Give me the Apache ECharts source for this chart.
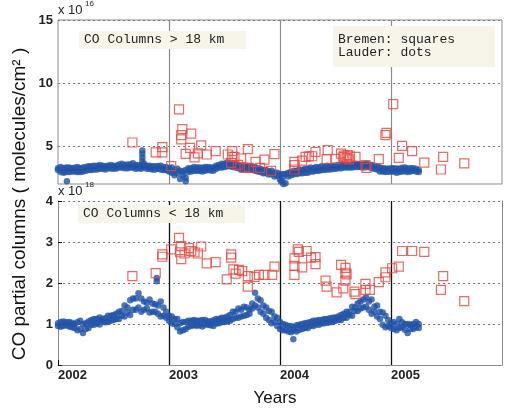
<!DOCTYPE html>
<html>
<head>
<meta charset="utf-8">
<script src="https://cdn.jsdelivr.net/npm/echarts@6.0.0/dist/echarts.min.js"></script>
<style>
  html, body { margin: 0; padding: 0; background: #fff; }
  #chart { width: 506px; height: 411px; }
</style>
</head>
<body>
<div id="chart"></div>
<script>
// tick values
const upperTicks = [5, 10, 15];          // x 1e16
const lowerTicks = [0, 1, 2, 3, 4];      // x 1e18

// Lauder (dots): decimal year, two readings per date, above 18 km (x1e16) and below 18 km (x1e18)
const lauderYears = [
  2002.000, 2002.025, 2002.050, 2002.075, 2002.100, 2002.125, 2002.150, 2002.175, 2002.200, 2002.225,
  2002.250, 2002.275, 2002.300, 2002.325, 2002.350, 2002.375, 2002.400, 2002.425, 2002.450, 2002.475,
  2002.500, 2002.525, 2002.550, 2002.575, 2002.600, 2002.625, 2002.650, 2002.675, 2002.700, 2002.725,
  2002.750, 2002.775, 2002.800, 2002.825, 2002.850, 2002.875, 2002.900, 2002.925, 2002.950, 2002.975,
  2003.000, 2003.025, 2003.050, 2003.075, 2003.100, 2003.125, 2003.150, 2003.175, 2003.200, 2003.225,
  2003.250, 2003.275, 2003.300, 2003.325, 2003.350, 2003.375, 2003.400, 2003.425, 2003.450, 2003.475,
  2003.500, 2003.525, 2003.550, 2003.575, 2003.600, 2003.625, 2003.650, 2003.675, 2003.700, 2003.725,
  2003.750, 2003.775, 2003.800, 2003.825, 2003.850, 2003.875, 2003.900, 2003.925, 2003.950, 2003.975,
  2004.000, 2004.025, 2004.050, 2004.075, 2004.100, 2004.125, 2004.150, 2004.175, 2004.200, 2004.225,
  2004.250, 2004.275, 2004.300, 2004.325, 2004.350, 2004.375, 2004.400, 2004.425, 2004.450, 2004.475,
  2004.500, 2004.525, 2004.550, 2004.575, 2004.600, 2004.625, 2004.650, 2004.675, 2004.700, 2004.725,
  2004.750, 2004.775, 2004.800, 2004.825, 2004.850, 2004.875, 2004.900, 2004.925, 2004.950, 2004.975,
  2005.000, 2005.025, 2005.050, 2005.075, 2005.100, 2005.125, 2005.150, 2005.175, 2005.200, 2005.225,
  2005.250
];
const lauderAbove = [
  3.10, 3.35, 2.90, 3.30, 2.95, 3.25, 3.00, 3.35, 2.95, 3.30,
  3.05, 3.40, 3.10, 3.45, 3.15, 3.50, 3.20, 3.40, 3.25, 3.50,
  3.20, 3.45, 3.30, 3.60, 3.25, 3.55, 3.30, 3.65, 3.20, 3.50,
  3.40, 3.60, 3.20, 3.45, 3.15, 3.40, 3.20, 3.45, 3.10, 3.35,
  3.00, 3.30, 2.70, 3.20, 2.40, 3.00, 2.50, 3.25, 3.00, 3.35,
  3.05, 3.30, 3.00, 3.35, 3.10, 3.30, 3.05, 3.45, 3.30, 3.60,
  3.35, 3.70, 3.40, 3.65, 3.30, 3.50, 3.15, 3.45, 3.20, 3.40,
  3.10, 3.35, 3.00, 3.20, 2.85, 3.10, 2.75, 3.05, 2.60, 2.90,
  2.35, 2.80, 2.05, 2.90, 2.70, 3.05, 2.80, 3.15, 2.85, 3.20,
  2.90, 3.30, 3.00, 3.35, 3.05, 3.40, 3.10, 3.45, 3.15, 3.45,
  3.20, 3.50, 3.25, 3.55, 3.30, 3.55, 3.30, 3.60, 3.35, 3.55,
  3.30, 3.60, 3.35, 3.50, 3.20, 3.40, 3.00, 3.25, 2.95, 3.20,
  3.00, 3.25, 2.90, 3.20, 3.00, 3.30, 2.95, 3.25, 3.05, 3.20,
  3.10
];
const lauderAboveB = [
  3.25, 2.95, 3.25, 2.95, 3.30, 3.00, 3.28, 2.95, 3.25, 3.00,
  3.35, 3.10, 3.40, 3.15, 3.42, 3.20, 3.45, 3.15, 3.45, 3.22,
  3.45, 3.22, 3.55, 3.30, 3.50, 3.25, 3.55, 3.30, 3.48, 3.25,
  3.20, 3.35, 3.45, 3.20, 3.40, 3.15, 3.42, 3.15, 3.35, 3.10,
  3.25, 2.90, 3.10, 2.85, 3.05, 2.70, 3.10, 2.95, 3.25, 3.05,
  3.30, 3.05, 3.28, 3.05, 3.35, 3.08, 3.30, 3.20, 3.50, 3.30,
  3.60, 3.40, 3.62, 3.35, 3.55, 3.25, 3.45, 3.20, 3.42, 3.15,
  3.35, 3.05, 3.25, 2.95, 3.10, 2.85, 3.00, 2.80, 2.90, 2.65,
  2.75, 2.50, 2.80, 2.60, 2.95, 2.78, 3.05, 2.85, 3.10, 2.90,
  3.20, 3.00, 3.25, 3.05, 3.30, 3.10, 3.35, 3.15, 3.40, 3.18,
  3.45, 3.25, 3.50, 3.30, 3.52, 3.30, 3.55, 3.35, 3.58, 3.35,
  3.55, 3.35, 3.55, 3.25, 3.45, 3.15, 3.30, 3.00, 3.22, 2.98,
  3.25, 3.00, 3.22, 2.95, 3.28, 3.02, 3.22, 3.00, 3.25, 3.00,
  2.95
];
const lauderBelow = [
  1.02, 0.93, 1.06, 0.97, 1.05, 0.92, 1.00, 0.85, 1.08, 0.78,
  1.02, 0.90, 1.10, 0.98, 1.12, 0.99, 1.06, 1.14, 1.05, 1.20,
  1.10, 1.25, 1.12, 1.32, 1.18, 1.40, 1.22, 1.62, 1.35, 1.75,
  1.30, 1.55, 1.38, 1.60, 1.30, 1.48, 1.25, 1.55, 1.20, 1.30,
  1.08, 1.18, 1.00, 1.12, 0.82, 1.05, 0.88, 1.08, 0.95, 1.10,
  0.96, 1.08, 0.94, 1.10, 0.98, 1.06, 0.95, 1.12, 1.02, 1.15,
  1.05, 1.18, 1.08, 1.30, 1.15, 1.38, 1.18, 1.42, 1.22, 1.35,
  1.50, 1.76, 1.40, 1.58, 1.25, 1.40, 1.10, 1.30, 1.05, 1.15,
  0.88, 1.00, 0.85, 0.95, 0.80, 0.92, 0.82, 0.98, 0.88, 1.02,
  0.90, 1.05, 0.95, 1.08, 0.98, 1.10, 1.02, 1.12, 1.04, 1.15,
  1.08, 1.18, 1.10, 1.25, 1.15, 1.30, 1.20, 1.40, 1.32, 1.55,
  1.40, 1.65, 1.35, 1.60, 1.30, 1.45, 1.12, 1.28, 0.92, 1.10,
  0.90, 1.05, 0.85, 1.12, 0.92, 1.00, 0.78, 0.98, 0.88, 1.05,
  0.90
];
const lauderBelowB = [
  0.95, 1.05, 0.96, 1.04, 0.94, 1.03, 0.90, 1.04, 0.88, 1.00,
  0.88, 1.06, 0.98, 1.12, 1.02, 1.16, 1.12, 1.04, 1.20, 1.08,
  1.22, 1.12, 1.30, 1.20, 1.45, 1.28, 1.58, 1.35, 1.62, 1.40,
  1.62, 1.35, 1.52, 1.28, 1.50, 1.30, 1.45, 1.18, 1.40, 1.15,
  1.20, 1.02, 1.12, 0.92, 1.02, 0.85, 1.05, 0.93, 1.08, 0.97,
  1.08, 0.97, 1.10, 0.99, 1.07, 0.97, 1.09, 1.01, 1.12, 1.04,
  1.15, 1.06, 1.22, 1.12, 1.30, 1.15, 1.35, 1.20, 1.40, 1.25,
  1.38, 1.45, 1.62, 1.30, 1.45, 1.15, 1.32, 1.02, 1.18, 0.95,
  1.05, 0.85, 0.98, 0.82, 0.95, 0.84, 0.97, 0.86, 1.00, 0.90,
  1.03, 0.96, 1.08, 0.99, 1.10, 1.01, 1.12, 1.03, 1.14, 1.05,
  1.16, 1.10, 1.22, 1.15, 1.30, 1.22, 1.42, 1.32, 1.50, 1.38,
  1.60, 1.42, 1.55, 1.25, 1.42, 1.18, 1.30, 0.98, 1.20, 0.95,
  1.02, 0.88, 1.00, 0.90, 1.04, 0.86, 1.00, 0.88, 1.00, 0.92,
  1.00
];
// isolated Lauder points
const lauderAboveOddYears = [2002.08, 2002.76, 2002.76, 2002.76, 2002.76, 2003.15, 2004.03, 2004.01];
const lauderAboveOdd      = [2.22, 3.80, 4.10, 4.40, 4.65, 2.22, 2.00, 2.20];
const lauderBelowOddYears = [2002.89, 2002.89, 2004.12];
const lauderBelowOdd      = [2.12, 2.04, 0.63];

// Bremen (squares)
const bremenAboveYears = [
  2002.67, 2002.88, 2002.94, 2002.94, 2003.02, 2003.09, 2003.12, 2003.11, 2003.11, 2003.20,
  2003.15, 2003.19, 2003.23, 2003.26, 2003.29, 2003.34, 2003.42, 2003.53, 2003.57, 2003.57,
  2003.56, 2003.59, 2003.62, 2003.65, 2003.71, 2003.68, 2003.72, 2003.78, 2003.86, 2003.95,
  2003.82, 2003.92, 2004.13, 2004.13, 2004.13, 2004.20, 2004.23, 2004.26, 2004.29, 2004.32,
  2004.43, 2004.42, 2004.50, 2004.55, 2004.57, 2004.58, 2004.60, 2004.61, 2004.62, 2004.63,
  2004.68, 2004.77, 2004.78, 2004.89, 2004.95, 2004.96, 2005.02, 2005.10, 2005.07, 2005.19,
  2005.30, 2005.47, 2005.45, 2005.66
];
const bremenAbove = [
  5.29, 4.50, 4.92, 4.50, 3.41, 7.91, 6.35, 5.87, 5.53, 6.00,
  4.39, 4.87, 4.11, 4.42, 5.06, 4.34, 4.60, 4.34, 4.60, 4.15,
  3.67, 4.15, 3.52, 4.02, 4.76, 3.28, 3.28, 3.75, 3.94, 4.37,
  3.28, 3.04, 3.75, 3.49, 3.15, 3.85, 4.15, 4.20, 4.20, 4.54,
  4.68, 3.97, 3.99, 4.40, 4.15, 4.25, 4.05, 4.30, 3.95, 4.20,
  4.15, 3.49, 3.28, 3.97, 5.87, 6.05, 8.33, 5.02, 4.07, 4.60,
  3.70, 4.15, 3.15, 3.63
];
const bremenBelowYears = [
  2002.67, 2002.88, 2002.94, 2002.94, 2003.02, 2003.09, 2003.11, 2003.10, 2003.11, 2003.14,
  2003.18, 2003.20, 2003.23, 2003.26, 2003.29, 2003.34, 2003.42, 2003.56, 2003.56, 2003.52,
  2003.58, 2003.60, 2003.63, 2003.66, 2003.71, 2003.71, 2003.77, 2003.81, 2003.86, 2003.93,
  2003.95, 2004.16, 2004.17, 2004.13, 2004.24, 2004.20, 2004.13, 2004.13, 2004.28, 2004.32,
  2004.32, 2004.55, 2004.59, 2004.59, 2004.60, 2004.59, 2004.41, 2004.42, 2004.51, 2004.57,
  2004.67, 2004.68, 2004.77, 2004.77, 2004.81, 2004.89, 2004.95, 2004.95, 2005.01, 2005.07,
  2005.10, 2005.19, 2005.30, 2005.47, 2005.45, 2005.66
];
const bremenBelow = [
  2.17, 2.24, 2.70, 2.64, 2.82, 3.10, 2.90, 2.75, 2.58, 2.72,
  2.85, 2.78, 2.75, 2.72, 2.89, 2.48, 2.51, 2.70, 2.62, 2.09,
  2.33, 2.23, 2.32, 2.29, 2.17, 1.91, 2.15, 2.20, 2.20, 2.20,
  2.40, 2.82, 2.76, 2.60, 2.78, 2.38, 2.42, 2.20, 2.62, 2.63,
  2.46, 2.44, 2.37, 2.25, 2.21, 2.06, 2.06, 1.91, 1.77, 1.87,
  1.79, 1.73, 1.98, 1.83, 1.83, 2.02, 2.26, 2.14, 2.36, 2.40,
  2.78, 2.78, 2.76, 2.17, 1.83, 1.56
];

const pair = (xs, ys) => xs.map((x, i) => [x, ys[i]]);

const sans = '"Liberation Sans", Arial, sans-serif';
const mono = '"Liberation Mono", "Courier New", monospace';
const frame = '#8c8c8c';
const dotColor = '#2053a8';
const squareColor = '#e8453c';

const chart = echarts.init(document.getElementById('chart'));

const dots = (name, xi, yi, data) => ({
  name, type: 'scatter', xAxisIndex: xi, yAxisIndex: yi, data,
  symbol: 'circle', symbolSize: 6.5, itemStyle: { color: dotColor }, z: 3
});
const squares = (name, xi, yi, data) => ({
  name, type: 'scatter', xAxisIndex: xi, yAxisIndex: yi, data,
  symbol: 'rect', symbolSize: 9,
  itemStyle: { color: 'rgba(255,255,255,0)', borderColor: squareColor, borderWidth: 1.2 }, z: 4
});

const yLabel = { fontFamily: sans, fontWeight: 'bold', fontSize: 13, color: '#222', margin: 5 };
const dotted = { color: '#777', type: [2, 3], width: 1 };

// annotation boxes live on their own layer so they cover the year lines
function box(x, y, w, h, text) {
  return [
    { type: 'rect', zlevel: 1, z: 100, shape: { x, y, width: w, height: h }, style: { fill: '#f7f5ea' } },
    { type: 'text', zlevel: 1, z: 101, x: x + 5, y: y + h / 2,
      style: { text, font: '13px ' + mono, fill: '#222', verticalAlign: 'middle', lineHeight: 13 } }
  ];
}

chart.setOption({
  animation: false,
  grid: [
    { left: 58, top: 20, width: 444, height: 164, show: true, borderColor: frame, borderWidth: 1 },
    { left: 58, top: 201, width: 444, height: 164 }
  ],
  xAxis: [
    {
      gridIndex: 0, type: 'value', min: 2002, max: 2006, interval: 1,
      axisLine: { show: false }, axisTick: { show: false }, axisLabel: { show: false },
      splitLine: { show: true, showMinLine: false, showMaxLine: false, lineStyle: { color: '#8a8a8a', width: 1.2 } }
    },
    {
      gridIndex: 1, type: 'value', min: 2002, max: 2006, interval: 1,
      axisLine: { show: true, onZero: false, lineStyle: { color: frame } },
      axisTick: { show: true, inside: true, length: 5, lineStyle: { color: '#111' } },
      axisLabel: {
        fontFamily: sans, fontWeight: 'bold', fontSize: 13, color: '#222', align: 'left', margin: 4,
        showMaxLabel: false, formatter: v => String(v)
      },
      splitLine: { show: true, showMinLine: false, showMaxLine: false, lineStyle: { color: '#111', width: 1.3 } }
    }
  ],
  yAxis: [
    {
      gridIndex: 0, type: 'value', min: 2, max: 15,
      axisLine: { show: false },
      axisTick: { show: false, customValues: upperTicks },
      axisLabel: Object.assign({ customValues: upperTicks }, yLabel),
      splitLine: { show: true, lineStyle: dotted }
    },
    {
      gridIndex: 1, type: 'value', min: 0, max: 4, interval: 1,
      axisLine: { show: true, onZero: false, lineStyle: { color: frame } },
      axisTick: { show: true, inside: true, length: 4, lineStyle: { color: '#111' } },
      axisLabel: yLabel,
      splitLine: { show: true, showMinLine: false, lineStyle: dotted }
    },
    {
      gridIndex: 1, type: 'value', min: 0, max: 4, interval: 1, position: 'right',
      axisLine: { show: true, onZero: false, lineStyle: { color: frame } },
      axisTick: { show: false }, axisLabel: { show: false }, splitLine: { show: false }
    }
  ],
  series: [
    dots('Lauder above 18 km', 0, 0, pair(lauderYears, lauderAbove)
      .concat(pair(lauderYears, lauderAboveB), pair(lauderAboveOddYears, lauderAboveOdd))),
    dots('Lauder below 18 km', 1, 1, pair(lauderYears, lauderBelow)
      .concat(pair(lauderYears, lauderBelowB), pair(lauderBelowOddYears, lauderBelowOdd))),
    squares('Bremen above 18 km', 0, 0, pair(bremenAboveYears, bremenAbove)),
    squares('Bremen below 18 km', 1, 1, pair(bremenBelowYears, bremenBelow))
  ],
  graphic: [].concat(
    box(79, 31, 167, 18, 'CO Columns > 18 km'),
    box(333, 26, 162, 41, 'Bremen: squares\nLauder: dots'),
    box(78, 205, 167, 18, 'CO Columns < 18 km'),
    [
      { type: 'text', left: 58, top: 4, style: { text: 'x 10', font: '13px ' + sans, fill: '#222' } },
      { type: 'text', left: 85, top: 0, style: { text: '16', font: '8px ' + sans, fill: '#222' } },
      { type: 'text', left: 58, top: 185, style: { text: 'x 10', font: '13px ' + sans, fill: '#222' } },
      { type: 'text', left: 85, top: 181, style: { text: '18', font: '8px ' + sans, fill: '#222' } },
      {
        type: 'text', x: 20, y: 204, rotation: Math.PI / 2,
        style: { text: 'CO partial columns ( molecules/cm² )', font: '19px ' + sans, fill: '#111', align: 'center', verticalAlign: 'middle' }
      },
      { type: 'text', x: 275, y: 398, style: { text: 'Years', font: '17px ' + sans, fill: '#111', align: 'center', verticalAlign: 'middle' } }
    ]
  )
});
</script>
</body>
</html>
